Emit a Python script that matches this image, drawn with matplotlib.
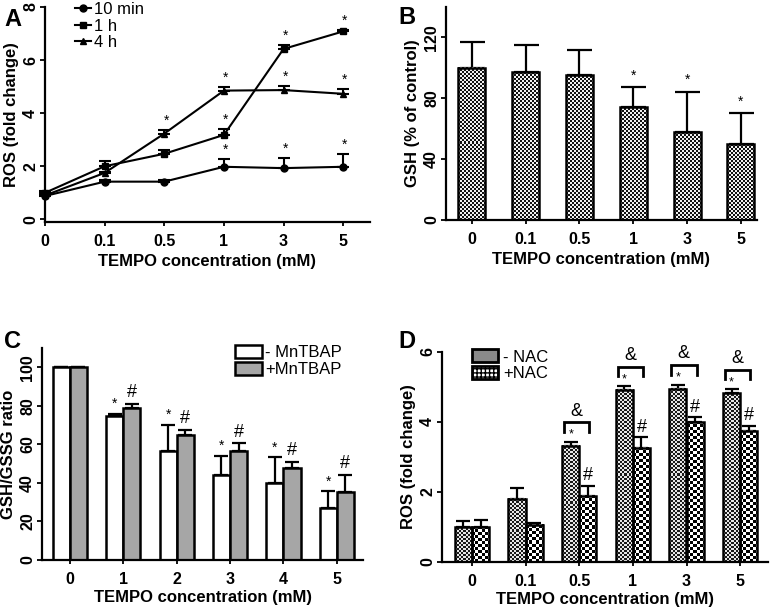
import numpy as np
import matplotlib
matplotlib.use("Agg")
import matplotlib.pyplot as plt
from matplotlib.colors import ListedColormap
from matplotlib.patches import Patch
from matplotlib.lines import Line2D

plt.rcParams['font.family'] = ['Liberation Sans', 'DejaVu Sans']

# ---- data ----
conc = ['0', '0.1', '0.5', '1', '3', '5']
conc_c = ['0', '1', '2', '3', '4', '5']

# A: ROS time course
ros_10min = [0.88, 1.42, 1.42, 1.98, 1.93, 1.98]
ros_10min_err = [0.05, 0.08, 0.08, 0.30, 0.40, 0.47]
ros_1h = [1.0, 2.0, 2.47, 3.18, 6.42, 7.08]
ros_1h_err = [0.05, 0.20, 0.15, 0.23, 0.15, 0.05]
ros_4h = [0.9, 1.75, 3.23, 4.85, 4.87, 4.73]
ros_4h_err = [0.05, 0.05, 0.13, 0.13, 0.17, 0.19]
star_10min = [0, 0, 0, 1, 1, 1]
star_1h = [0, 0, 0, 1, 1, 1]
star_4h = [0, 0, 1, 1, 1, 1]

# B: GSH
gsh = [100, 97.2, 95, 74.2, 57.8, 49.8]
gsh_err = [17, 18, 17, 13, 26.5, 20.6]
star_b = [0, 0, 0, 1, 1, 1]

# C: GSH/GSSG
ratio_minus = [100, 74.5, 56.5, 44.2, 39.8, 26.8]
ratio_minus_err = [0, 1.5, 13.5, 10, 13.5, 8.8]
ratio_plus = [100, 79, 64.6, 56.8, 47.5, 35.3]
ratio_plus_err = [0, 2.1, 2.7, 3.7, 3.5, 8.7]

# D: ROS with NAC
nac_minus = [1.0, 1.81, 3.32, 4.92, 4.95, 4.82]
nac_minus_err = [0.17, 0.30, 0.12, 0.11, 0.12, 0.13]
nac_plus = [1.0, 1.07, 1.89, 3.27, 3.99, 3.75]
nac_plus_err = [0.20, 0.05, 0.28, 0.29, 0.14, 0.15]
bracket_d = [0, 0, 1, 1, 1, 1]

W, H = 770, 610
fig = plt.figure(figsize=(7.7, 6.1), dpi=100)


def px_axes(l, t, r, b):
    return fig.add_axes([l / W, 1 - b / H, (r - l) / W, (b - t) / H])


def style(ax):
    for s in ['top', 'right']:
        ax.spines[s].set_visible(False)
    for s in ['left', 'bottom']:
        ax.spines[s].set_linewidth(1.6)
    ax.tick_params(axis='y', length=3.5, width=1.3, pad=1.5, labelsize=11.5)
    ax.tick_params(axis='x', length=3, width=1.3, pad=6, labelsize=11.5)
    for lab in ax.get_xticklabels() + ax.get_yticklabels():
        lab.set_fontweight('bold')
    for lab in ax.get_yticklabels():
        lab.set_rotation(90)
        lab.set_va('center')


def checker(ax, bars, cell, dark='black', light='white'):
    cmap = ListedColormap([light, dark])
    for b in bars:
        x0, y0, w, h = b.get_x(), b.get_y(), b.get_width(), b.get_height()
        p0 = ax.transData.transform((x0, y0))
        p1 = ax.transData.transform((x0 + w, y0 + h))
        wpx = max(int(round(abs(p1[0] - p0[0]))), 1)
        hpx = max(int(round(abs(p1[1] - p0[1]))), 1)
        r, c = np.indices((hpx, wpx))
        arr = (r // cell + c // cell) % 2
        ax.imshow(arr, extent=(x0, x0 + w, y0, y0 + h), cmap=cmap, vmin=0, vmax=1,
                  interpolation='nearest', aspect='auto', origin='lower', zorder=1.5)


def up_err(ax, x, y, e, cap):
    ax.errorbar(x, y, yerr=[np.zeros(len(e)), e], fmt='none', ecolor='black',
                elinewidth=1.6, capsize=cap, capthick=1.6, zorder=1, clip_on=False)


# ---------------- A ----------------
axA = px_axes(45, 7, 370, 222)
xa = np.arange(len(conc))
axA.set_xlim(0, 5.45)
axA.set_ylim(-0.1, 8)
series = [(ros_10min, ros_10min_err, 'o', '10 min', star_10min),
          (ros_1h, ros_1h_err, 's', '1 h', star_1h),
          (ros_4h, ros_4h_err, '^', '4 h', star_4h)]
hA = []
for vals, errs, mk, lab, st in series:
    axA.errorbar(xa, vals, yerr=[np.zeros(6), errs], color='black', lw=1.5,
                 marker=mk, ms=5, capsize=4, capthick=1.5, elinewidth=1.5,
                 clip_on=False, zorder=3)
    hA.append(Line2D([], [], color='black', lw=1.5, marker=mk, ms=5))
    for i in range(6):
        if st[i]:
            axA.text(xa[i] + 0.03, vals[i] + errs[i] + 0.08, '*', ha='center',
                     va='bottom', fontsize=10)
axA.set_xticks(xa)
axA.set_xticklabels(conc)
axA.set_yticks([0, 2, 4, 6, 8])
axA.set_xlabel('TEMPO concentration (mM)', fontsize=12, fontweight='bold', labelpad=3)
axA.set_ylabel('ROS (fold change)', fontsize=12, fontweight='bold', labelpad=3)
style(axA)
axA.legend(hA, ['10 min', '1 h', '4 h'], loc='upper left', bbox_to_anchor=(0.06, 1.07),
           frameon=False, fontsize=12, handlelength=1.0, handletextpad=0.15,
           labelspacing=0.1, borderpad=0.1)

# ---------------- B ----------------
axB = px_axes(446, 7, 757, 220)
xb = np.arange(len(conc))
axB.set_xlim(-0.48, 5.3)
axB.set_ylim(0, 140)
barsB = axB.bar(xb, gsh, width=0.5, facecolor='none', edgecolor='black', lw=1.8, zorder=2)
checker(axB, barsB, 2, dark='#111111', light='#f0f0f0')
up_err(axB, xb, gsh, gsh_err, 9)
for i in range(6):
    if star_b[i]:
        axB.text(xb[i], gsh[i] + gsh_err[i] + 3, '*', ha='center', va='bottom', fontsize=10)
axB.set_xticks(xb)
axB.set_xticklabels(conc)
axB.set_yticks([0, 40, 80, 120])
axB.set_xlabel('TEMPO concentration (mM)', fontsize=12, fontweight='bold', labelpad=3)
axB.set_ylabel('GSH (% of control)', fontsize=12, fontweight='bold', labelpad=3)
style(axB)

# ---------------- C ----------------
axC = px_axes(42, 348, 363, 560)
xc = np.arange(len(conc_c))
bw = 0.32
axC.set_xlim(-0.52, 5.49)
axC.set_ylim(0, 110)
up_err(axC, xc - bw / 2, ratio_minus, ratio_minus_err, 5)
up_err(axC, xc + bw / 2, ratio_plus, ratio_plus_err, 5)
axC.bar(xc - bw / 2, ratio_minus, width=bw, facecolor='white', edgecolor='black',
        lw=1.8, zorder=2, label='- MnTBAP')
axC.bar(xc + bw / 2, ratio_plus, width=bw, facecolor='#a6a6a6', edgecolor='black',
        lw=1.8, zorder=2, label='+MnTBAP')
for i in range(1, 6):
    axC.text(xc[i] - bw / 2, ratio_minus[i] + ratio_minus_err[i] + 1.5, '*',
             ha='center', va='bottom', fontsize=10)
    axC.text(xc[i] + bw / 2, ratio_plus[i] + ratio_plus_err[i] + 1.5, '#',
             ha='center', va='bottom', fontsize=13)
axC.set_xticks(xc)
axC.set_xticklabels(conc_c)
axC.set_yticks([0, 20, 40, 60, 80, 100])
axC.set_xlabel('TEMPO concentration (mM)', fontsize=12, fontweight='bold', labelpad=2)
axC.set_ylabel('GSH/GSSG ratio', fontsize=12, fontweight='bold', labelpad=3)
style(axC)
axC.legend(loc='upper left', bbox_to_anchor=(0.57, 1.06), frameon=False, fontsize=12,
           handlelength=1.6, handleheight=0.8, handletextpad=0.2, labelspacing=0.1,
           borderpad=0.1)

# ---------------- D ----------------
axD = px_axes(442, 352, 768, 562)
xd = np.arange(len(conc))
axD.set_xlim(-0.56, 5.52)
axD.set_ylim(0, 6)
up_err(axD, xd - bw / 2, nac_minus, nac_minus_err, 5)
up_err(axD, xd + bw / 2, nac_plus, nac_plus_err, 5)
barsDm = axD.bar(xd - bw / 2, nac_minus, width=bw, facecolor='none', edgecolor='black',
                 lw=1.8, zorder=2)
barsDp = axD.bar(xd + bw / 2, nac_plus, width=bw, facecolor='none', edgecolor='black',
                 lw=1.8, zorder=2)
checker(axD, barsDm, 2, dark='#1a1a1a', light='#e6e6e6')
checker(axD, barsDp, 3, dark='black', light='white')
for i in range(6):
    if bracket_d[i]:
        yt = nac_minus[i] + nac_minus_err[i]
        axD.text(xd[i] - bw / 2, yt + 0.02, '*', ha='center', va='bottom', fontsize=9)
        axD.text(xd[i] + bw / 2, nac_plus[i] + nac_plus_err[i] + 0.05, '#',
                 ha='center', va='bottom', fontsize=13)
        top = yt + 0.55
        axD.plot([xd[i] - 0.28, xd[i] - 0.28, xd[i] + 0.19, xd[i] + 0.19],
                 [top - 0.27, top, top, top - 0.27], color='black', lw=2,
                 clip_on=False, solid_joinstyle='miter')
        axD.text(xd[i] - 0.05, top + 0.08, '&', ha='center', va='bottom', fontsize=13,
                 clip_on=False)
axD.set_xticks(xd)
axD.set_xticklabels(conc)
axD.set_yticks([0, 2, 4, 6])
axD.set_xlabel('TEMPO concentration (mM)', fontsize=12, fontweight='bold', labelpad=2)
axD.set_ylabel('ROS (fold change)', fontsize=12, fontweight='bold', labelpad=3)
style(axD)
hD = [Patch(facecolor='#8a8a8a', edgecolor='black', lw=2),
      Patch(facecolor='white', edgecolor='black', lw=2, hatch='++++')]
axD.legend(hD, ['- NAC', '+NAC'], loc='upper left', bbox_to_anchor=(0.06, 1.06),
           frameon=False, fontsize=12, handlelength=1.6, handleheight=0.8,
           handletextpad=0.3, labelspacing=0.1, borderpad=0.1)

# panel letters
for lab, x, y in [('A', 13, 19), ('B', 407, 17), ('C', 13, 341), ('D', 407, 341)]:
    fig.text(x / W, 1 - y / H, lab, fontsize=17, fontweight='bold', ha='center', va='center')

fig.savefig('out.png', dpi=100)
